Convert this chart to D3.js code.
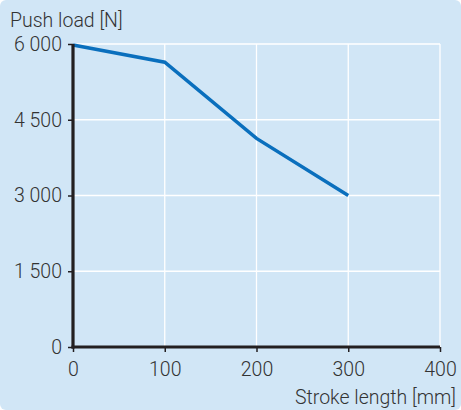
<!DOCTYPE html>
<html><head><meta charset="utf-8">
<script src="https://cdn.jsdelivr.net/npm/d3@7"></script>
<style>
html,body{margin:0;padding:0;background:#fff;}
svg{display:block;}
text{font-family:Roboto, "Open Sans", sans-serif;fill:#333;font-weight:300;}
</style></head>
<body>
<svg id="c" width="461" height="410"></svg>
<script>
const strokeLength = [0, 100, 200, 300];
const pushLoad = [5980, 5640, 4130, 3000];
const xTicks = [0, 100, 200, 300, 400];
const yTicks = [0, 1500, 3000, 4500, 6000];
const xTitle = "Stroke length [mm]";
const yTitle = "Push load [N]";

const svg = d3.select("#c");
svg.append("rect").attr("x",0).attr("y",0).attr("width",461).attr("height",410)
  .attr("rx",6).attr("fill","#d1e6f6");

const x = d3.scaleLinear().domain([0,400]).range([73,440]);
const y = d3.scaleLinear().domain([0,6000]).range([347,44]);
const fmt = v => d3.format(",")(v).replace(/,/g," ");
const fs = "19.5px";

// grid
svg.append("g").selectAll("line").data(yTicks.filter(d=>d>0)).join("line")
  .attr("x1",x(0)).attr("x2",x(400)).attr("y1",d=>y(d)).attr("y2",d=>y(d))
  .attr("stroke","#fff").attr("stroke-width",1.3);
svg.append("g").selectAll("line").data(xTicks.filter(d=>d>0)).join("line")
  .attr("y1",y(0)).attr("y2",y(6000)).attr("x1",d=>x(d)).attr("x2",d=>x(d))
  .attr("stroke","#fff").attr("stroke-width",1.3);

// data line
const data = strokeLength.map((s,i)=>[s,pushLoad[i]]);
svg.append("path").datum(data)
  .attr("d", d3.line().x(d=>x(d[0])).y(d=>y(d[1])))
  .attr("fill","none").attr("stroke","#0a6fbd").attr("stroke-width",3.5)
  .attr("stroke-linejoin","miter");

// axes
const ax = d3.axisLeft(y).tickValues(yTicks).tickFormat(fmt).tickSize(5).tickPadding(6);
const gy = svg.append("g").attr("transform",`translate(${x(0)},0)`).call(ax);
gy.select(".domain").remove();
gy.selectAll(".tick line").attr("stroke","#231f20").attr("stroke-width",1.5);
gy.selectAll(".tick text").style("font-size",fs).attr("fill","#333");

const bx = d3.axisBottom(x).tickValues(xTicks).tickFormat(d3.format("d")).tickSize(5).tickPadding(10);
const gx = svg.append("g").attr("transform",`translate(0,${y(0)})`).call(bx);
gx.select(".domain").remove();
gx.selectAll(".tick line").attr("stroke","#231f20").attr("stroke-width",1.5);
gx.selectAll(".tick text").style("font-size",fs).attr("fill","#333");

svg.append("line").attr("x1",x(0)).attr("x2",x(0)).attr("y1",y(0)+1.5).attr("y2",y(6000))
  .attr("stroke","#231f20").attr("stroke-width",3.2);
svg.append("line").attr("x1",x(0)-1.5).attr("x2",x(400)).attr("y1",y(0)).attr("y2",y(0))
  .attr("stroke","#231f20").attr("stroke-width",3.2);

svg.append("text").attr("x",10).attr("y",27).style("font-size",fs).text(yTitle);
svg.append("text").attr("x",456).attr("y",404).attr("text-anchor","end").style("font-size",fs).text(xTitle);
</script>
</body></html>
